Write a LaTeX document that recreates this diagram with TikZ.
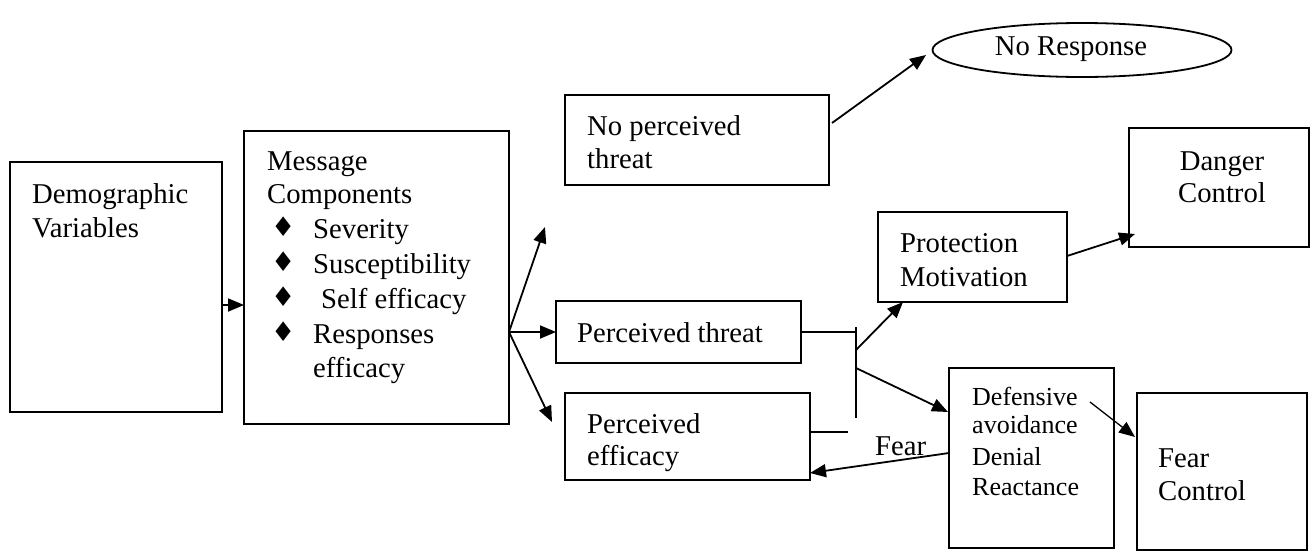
\documentclass[tikz,border=0pt]{standalone}
\usepackage{fontspec}
\setmainfont{Liberation Serif}
\newfontfamily\symfont{DejaVu Sans}
\usetikzlibrary{arrows.meta,shapes.geometric}
\tikzset{
  box/.style={draw, line width=1.8pt, inner sep=0pt, outer sep=0pt},
  oval/.style={draw, ellipse, line width=1.8pt, inner sep=0pt, outer sep=0pt},
  txt/.style={anchor=base west, inner sep=0pt, font=\fontsize{28.7}{33}\selectfont},
  ctxt/.style={anchor=base, inner sep=0pt, font=\fontsize{28.7}{33}\selectfont},
  stxt/.style={anchor=base west, inner sep=0pt, font=\fontsize{26}{30}\selectfont},
  bul/.style={anchor=base west, inner sep=0pt, font=\symfont\fontsize{27}{30}\selectfont},
  arr/.style={line width=1.8pt, -{Triangle[length=16pt,width=13pt]}},
  ln/.style={line width=1.8pt}
}
\begin{document}
\begin{tikzpicture}[x=1pt,y=-1pt]
\useasboundingbox (0,0) rectangle (1314,552);
% boxes
\node[box, minimum width=212pt, minimum height=250pt] (dem) at (116,287) {};
\node[box, minimum width=265pt, minimum height=293pt] (msg) at (376.5,277.5) {};
\node[box, minimum width=264pt, minimum height=90pt] (npt) at (697,140) {};
\node[box, minimum width=245pt, minimum height=62pt] (pt) at (678.5,332) {};
\node[box, minimum width=245pt, minimum height=87pt] (pe) at (687.5,436.5) {};
\node[oval, minimum width=299pt, minimum height=54pt] (nr) at (1082,50) {};
\node[box, minimum width=189pt, minimum height=90pt] (pm) at (972.5,257) {};
\node[box, minimum width=180pt, minimum height=119pt] (dc) at (1219,187.5) {};
\node[box, minimum width=165pt, minimum height=180pt] (def) at (1031.5,458) {};
\node[box, minimum width=170pt, minimum height=157pt] (fc) at (1222,471.5) {};
% texts
\node[txt] (t1) at (32,203) {Demographic};
\node[txt] (t2) at (32,237) {Variables};
\node[txt] (t3) at (267,170) {Message};
\node[txt] (t4) at (267,203) {Components};
\node[bul] (b1) at (271,236) {♦};
\node[bul] (b2) at (271,271) {♦};
\node[bul] (b3) at (271,306) {♦};
\node[bul] (b4) at (271,341) {♦};
\node[txt] (t5) at (313,238) {Severity};
\node[txt] (t6) at (313,273) {Susceptibility};
\node[txt] (t7) at (321,308) {Self efficacy};
\node[txt] (t8) at (313,343) {Responses};
\node[txt] (t9) at (313,377) {efficacy};
\node[txt] (t10) at (587,135) {No perceived};
\node[txt] (t11) at (587,168) {threat};
\node[txt] (t12) at (577,342) {Perceived threat};
\node[txt] (t13) at (587,433) {Perceived};
\node[txt] (t14) at (587,465) {efficacy};
\node[ctxt] (t15) at (1071,55) {No Response};
\node[txt] (t16) at (900,252) {Protection};
\node[txt] (t17) at (900,286) {Motivation};
\node[ctxt] (t18) at (1222,170) {Danger};
\node[ctxt] (t19) at (1222,202) {Control};
\node[stxt] (t20) at (972,405) {Defensive};
\node[stxt] (t21) at (972,433) {avoidance};
\node[stxt] (t22) at (972,465) {Denial};
\node[stxt] (t23) at (972,495) {Reactance};
\node[txt] (t24) at (1158,467) {Fear};
\node[txt] (t25) at (1158,500) {Control};
\node[txt] (fearlbl) at (875,455) {Fear};
% coordinates
\coordinate (y305) at (0,305);
\coordinate (up) at (545,227);
\coordinate (dn) at (552,422);
\coordinate (bt) at (856,327);
\coordinate (bb) at (856,418);
\coordinate (b1s) at (856,350);
\coordinate (b2s) at (856,368);
\coordinate (pmin) at (903,302);
\coordinate (pee) at (848,432);
\coordinate (nptout) at (832,123);
\coordinate (nrin) at (926,55);
\coordinate (pmout) at (1067,256);
\coordinate (dcin) at (1135,234);
\coordinate (defout) at (1090,402);
\coordinate (fcin) at (1135,437);
\coordinate (fearst) at (949,453);
\coordinate (fearend) at (810,473);
\coordinate (defin) at (948,412);
% connectors
\draw[arr] (dem.east |- y305) -- (msg.west |- y305);
\draw[arr] (msg.east |- pt.west) -- (up);
\draw[arr] (msg.east |- pt.west) -- (pt.west);
\draw[arr] (msg.east |- pt.west) -- (dn);
\draw[ln] (pt.east) -- (bt |- pt.east);
\draw[ln] (bt) -- (bb);
\draw[ln] (pe.east |- pee) -- (pee);
\draw[arr] (b1s) -- (pmin);
\draw[arr] (b2s) -- (defin);
\draw[arr] (nptout) -- (nrin);
\draw[arr] (pmout) -- (dcin);
\draw[arr, line width=1.3pt] (defout) -- (fcin);
\draw[arr] (fearst) -- (fearend);
\end{tikzpicture}
\end{document}
